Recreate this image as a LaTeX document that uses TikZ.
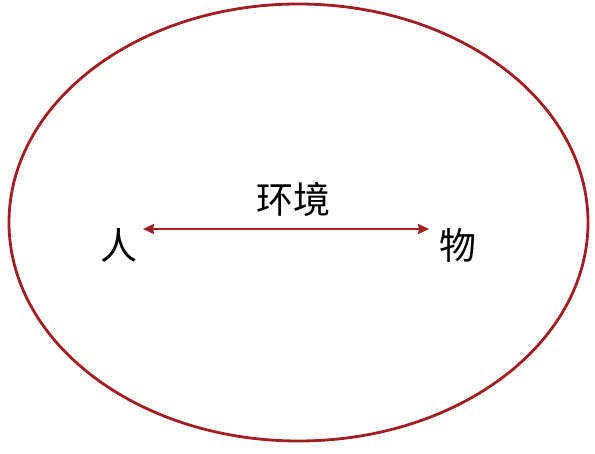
\documentclass[tikz,border=0pt]{standalone}
\usepackage{fontspec}
\usepackage{xcolor}
\usetikzlibrary{arrows.meta, positioning}
\newfontfamily\cjk{Noto Sans CJK SC}
\definecolor{rimred}{RGB}{162,30,34}
\tikzset{word/.style={font=\cjk\fontsize{37}{42}\selectfont, inner sep=0pt}}
\tikzset{rim/.style={draw=rimred, line width=2.8pt}}

\begin{document}
\begin{tikzpicture}[x=1pt, y=-1pt]
		\useasboundingbox (0,0) rectangle (595,454);
		\draw [rim] (298.5,222.5) ellipse [x radius=289.5, y radius=218.5];
		\node (Person)[word] at (119,245) {人};
		\node (Thing)[word] at (458,245) {物};
		\coordinate (PersonEnd) at (143,229);
		\coordinate (ThingEnd) at (429,229);
		\draw [rimred, line width=2.8pt, {Stealth[length=11pt, width=10pt, inset=1pt]}-{Stealth[length=11pt, width=10pt, inset=1pt]}] (PersonEnd) -- (ThingEnd);
		\node (Surround)[word] at (293,199) {环境};
	\end{tikzpicture}
\end{document}
